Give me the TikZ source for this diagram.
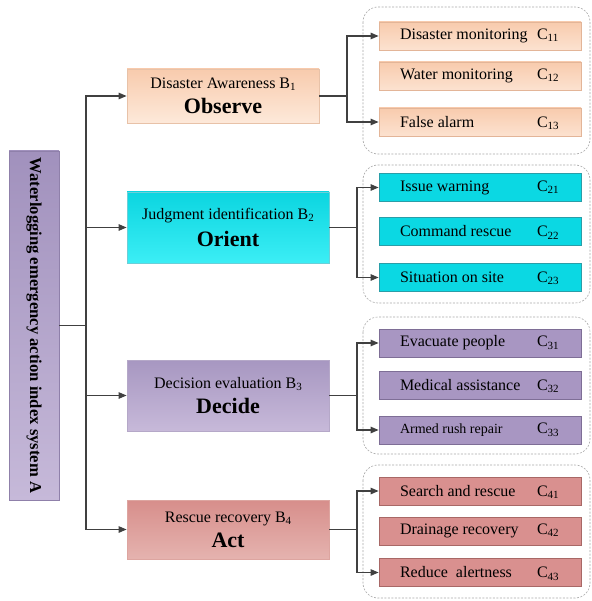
\documentclass[tikz,border=0pt]{standalone}
\usepackage{fontspec}
\setmainfont{Liberation Serif}
\usetikzlibrary{arrows.meta}

% index letter with a small trailing number, e.g. B1, C11
\newcommand{\idx}[2]{#1\raisebox{-0.3ex}[0pt][0pt]{\fontsize{11}{12}\selectfont #2}}
% one row of an indicator box: name on the left, code at a fixed column
\newcommand{\crow}[2]{\hbox to 202pt{\hskip21pt\hbox to 137pt{#1\hfil}\idx{C}{#2}\hfil}}
% two-line phase label: description with index, then the phase name in bold
\newcommand{\phase}[3]{#1 \idx{B}{#2}\\[7pt]{\fontsize{22}{24}\selectfont\bfseries #3}}

\definecolor{linegray}{HTML}{404040}
\definecolor{framegray}{HTML}{A8A8A8}
% phase palettes
\definecolor{peachTop}{HTML}{F8CBAD}
\definecolor{peachBot}{HTML}{FDE9DA}
\definecolor{peachLine}{HTML}{E8C2A8}
\definecolor{peachCBot}{HTML}{FCE2D0}
\definecolor{peachCLine}{HTML}{E3B598}
\definecolor{cyanTop}{HTML}{0BD5E0}
\definecolor{cyanBot}{HTML}{3CEEF5}
\definecolor{cyanLine}{HTML}{6CCFD8}
\definecolor{cyanFill}{HTML}{0BD8E3}
\definecolor{cyanCLine}{HTML}{2A9EA8}
\definecolor{purpTop}{HTML}{A797C1}
\definecolor{purpBot}{HTML}{C7B9D9}
\definecolor{purpLine}{HTML}{B5A8C8}
\definecolor{purpFill}{HTML}{A896C2}
\definecolor{purpCLine}{HTML}{7E6E96}
\definecolor{redTop}{HTML}{D78E8B}
\definecolor{redBot}{HTML}{E5B3AF}
\definecolor{redLine}{HTML}{DDA5A0}
\definecolor{redFill}{HTML}{D9908F}
\definecolor{redCLine}{HTML}{A86866}
\definecolor{rootTop}{HTML}{A191BD}
\definecolor{rootBot}{HTML}{C6B9D9}
\definecolor{rootLine}{HTML}{8F80AA}

\begin{document}
\begin{tikzpicture}[x=1pt,y=-1pt,
  link/.style={draw=linegray, line width=1.2pt},
  arr/.style={link, -{Triangle[length=8pt,width=6.5pt]}},
  box/.style={draw, inner sep=0pt, line width=0.8pt, font=\fontsize{16}{18}\selectfont},
  bbox/.style={box, minimum width=202pt, align=center},
  cbox/.style={box, minimum width=202pt, minimum height=28pt},
  peachB/.style={top color=peachTop, bottom color=peachBot, draw=peachLine},
  peachC/.style={top color=peachTop, bottom color=peachCBot, draw=peachCLine},
  cyanB/.style={top color=cyanTop, bottom color=cyanBot, draw=cyanLine},
  cyanC/.style={fill=cyanFill, draw=cyanCLine},
  purpleB/.style={top color=purpTop, bottom color=purpBot, draw=purpLine},
  purpleC/.style={fill=purpFill, draw=purpCLine},
  redB/.style={top color=redTop, bottom color=redBot, draw=redLine},
  redC/.style={fill=redFill, draw=redCLine},
  group/.style={draw=framegray, dash pattern=on 2pt off 1.5pt, line width=0.6pt, rounded corners=15pt}
]
\useasboundingbox (0,0) rectangle (591,601);

% dashed groups around the indicator boxes
\draw[group] (363,7) rectangle (590,154);
\draw[group] (363,165) rectangle (590,303);
\draw[group] (363,317) rectangle (590,454);
\draw[group] (363,465) rectangle (590,598);

% root
\node[box, minimum width=50pt, minimum height=349pt,
      top color=rootTop, bottom color=rootBot, draw=rootLine]
  (A) at (34,325.5)
  {\rotatebox{-90}{\fontsize{16.6}{18}\selectfont\bfseries Waterlogging emergency action index system A}};

% second level
\node[box, minimum width=192pt, minimum height=54pt, align=center, peachB]
  (b1) at (223,96) {\phase{Disaster Awareness}{1}{Observe}};
\node[bbox, minimum height=71pt, cyanB]
  (b2) at (228,227.5) {\phase{Judgment identification}{2}{Orient}};
\node[bbox, minimum height=71pt, purpleB]
  (b3) at (228,395.5) {\phase{Decision evaluation}{3}{Decide}};
\node[bbox, minimum height=59pt, redB]
  (b4) at (228,529.5) {\phase{Rescue recovery}{4}{Act}};

% third level
\node[cbox, peachC] (c11) at (480,36)  {\crow{Disaster monitoring}{11}};
\node[cbox, peachC] (c12) at (480,76)  {\crow{Water monitoring}{12}};
\node[cbox, peachC] (c13) at (480,122) {\crow{False alarm}{13}};

\node[cbox, cyanC] (c21) at (480,187.5) {\crow{Issue warning}{21}};
\node[cbox, cyanC] (c22) at (480,231.5) {\crow{Command rescue}{22}};
\node[cbox, cyanC] (c23) at (480,277.5) {\crow{Situation on site}{23}};

\node[cbox, purpleC] (c31) at (480,343) {\crow{Evacuate people}{31}};
\node[cbox, purpleC] (c32) at (480,385) {\crow{Medical assistance}{32}};
\node[cbox, purpleC] (c33) at (480,430) {\crow{{\fontsize{14}{16}\selectfont Armed rush repair}}{33}};

\node[cbox, redC] (c41) at (480,491) {\crow{Search and rescue}{41}};
\node[cbox, redC] (c42) at (480,531) {\crow{Drainage recovery}{42}};
\node[cbox, redC] (c43) at (480,572.5) {\crow{Reduce\ \ alertness}{43}};

% trunk from the root to the four phases
\coordinate (tk) at (86,325.5);
\draw[link] (A.east) -- (tk);
\draw[arr] (tk) |- (b1.west);
\draw[arr] (tk) |- (b2.west);
\draw[arr] (tk) |- (b3.west);
\draw[arr] (tk) |- (b4.west);

% branches from each phase to its indicators
\coordinate (j1) at (347,96);
\coordinate (j2) at (357,227.5);
\coordinate (j3) at (357,395.5);
\coordinate (j4) at (357,529.5);
\draw[link] (b1.east) -- (j1);
\draw[link] (b2.east) -- (j2);
\draw[link] (b3.east) -- (j3);
\draw[link] (b4.east) -- (j4);
\draw[arr] (j1) |- (c11.west);
\draw[arr] (j1) |- (c13.west);
\draw[arr] (j2) |- (c21.west);
\draw[arr] (j2) |- (c23.west);
\draw[arr] (j3) |- (c31.west);
\draw[arr] (j3) |- (c33.west);
\draw[arr] (j4) |- (c41.west);
\draw[arr] (j4) |- (c43.west);
\end{tikzpicture}
\end{document}
